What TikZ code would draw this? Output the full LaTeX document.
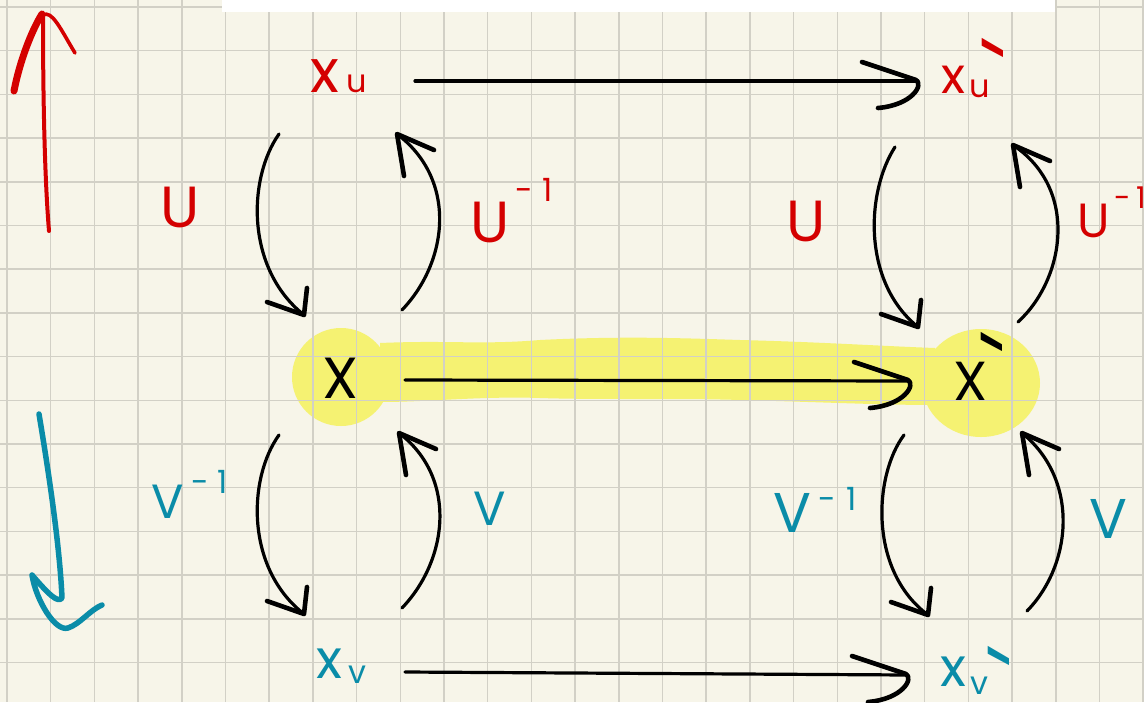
\documentclass[tikz,border=0pt]{standalone}
\usepackage{fontspec}
\setmainfont{Poppins}
\definecolor{paper}{HTML}{F7F5E9}
\definecolor{gridc}{HTML}{D2D0C6}
\definecolor{hl}{HTML}{F5F272}
\definecolor{inkred}{HTML}{D40000}
\definecolor{inkblue}{HTML}{0A8CA8}
\newcommand\fs[1]{\fontsize{#1}{#1}\selectfont}
\newcommand\mygrave[1]{\rlap{\raisebox{#1}{\fs{100}\textasciigrave}}}
\begin{document}
\begin{tikzpicture}[x=1pt,y=-1pt,
  gridline/.style={line width=1.5pt, gridc},
  conn/.style={line width=3.2pt, line cap=round, black},
  headstroke/.style={line width=4.6pt, line cap=round, line join=round, black},
  lbl/.style={inner sep=0pt, outer sep=0pt, anchor=base west},
  redlbl/.style={lbl, text=inkred},
  bluelbl/.style={lbl, text=inkblue},
  blacklbl/.style={lbl, text=black}]
\useasboundingbox (0,0) rectangle (1144,702);
\fill[paper] (0,0) rectangle (1144,702);
% highlight
\fill[hl] (341,377) circle (49pt);
\fill[hl] (981,383) ellipse (59pt and 54pt);
\fill[hl] (380,343) .. controls (450,340) and (480,345) .. (540,340)
  .. controls (620,336) and (680,338) .. (740,340)
  .. controls (820,342) and (880,346) .. (935,348) -- (935,405)
  .. controls (880,405) and (820,402) .. (740,400)
  .. controls (680,398) and (600,400) .. (540,398)
  .. controls (480,396) and (430,402) .. (380,402) -- cycle;
% grid
\foreach \i in {0,...,26} \draw[gridline] ({7+43.7*\i},0) -- ({7+43.7*\i},702);
\foreach \j in {0,...,15} \draw[gridline] (0,{7+43.7*\j}) -- (1144,{7+43.7*\j});
\fill[white] (222,0) rectangle (1055,12);

% side arrows
\draw[line width=4pt, inkred, line cap=round] (49,231) .. controls (44,170) and (43,80) .. (43,16);
\draw[line width=7pt, inkred, line cap=round] (14,91) .. controls (20,60) and (32,30) .. (42,14);
\draw[line width=3.6pt, inkred, line cap=round] (43,15) .. controls (52,10) and (60,28) .. (75,53);
\draw[line width=5.5pt, inkblue, line cap=round, line join=round]
  (39,414) .. controls (50,480) and (60,550) .. (62,598) .. controls (58,603) and (50,596) .. (32,575)
  .. controls (36,600) and (55,632) .. (68,628) .. controls (80,624) and (90,610) .. (102,605);

% labels
\node[redlbl] (xu) at (310,92) {\fs{60}x\hspace{8pt}\fs{32}u};
\node[redlbl] (xup) at (941,93) {\fs{50}x\hspace{5pt}\raisebox{-4pt}{\fs{32}u}\hspace{-10pt}\mygrave{-23pt}};
\node[blacklbl] (X) at (322,398) {\fs{58}X};
\node[blacklbl] (Xp) at (953,400) {\fs{55}X\hspace{-8pt}\mygrave{-10pt}};
\node[bluelbl] (xv) at (316,678) {\fs{54}x\hspace{7pt}\raisebox{-5pt}{\fs{32}v}};
\node[bluelbl] (xvp) at (940,686) {\fs{54}x\hspace{5pt}\raisebox{-8pt}{\fs{32}v}\hspace{-2pt}\mygrave{-38pt}};

\node[redlbl] (U1) at (160,227) {\fs{58}U};
\node[redlbl] (Ui1) at (470,242) {\fs{58}U\hspace{6pt}\raisebox{41pt}{\fs{32}-\hspace{10pt}1}};
\node[redlbl] (U2) at (786,241) {\fs{58}U};
\node[redlbl] (Ui2) at (1077,237) {\fs{48}U\hspace{5pt}\raisebox{29pt}{\fs{30}-\hspace{6pt}1}};
\node[bluelbl] (Vi1) at (151,518) {\fs{48}V\hspace{8pt}\raisebox{25pt}{\fs{32}-\hspace{8pt}1}};
\node[bluelbl] (V1) at (473,525) {\fs{48}V};
\node[bluelbl] (Vi2) at (773,532) {\fs{56}V\hspace{8pt}\raisebox{22pt}{\fs{32}-\hspace{10pt}1}};
\node[bluelbl] (V2) at (1089,538) {\fs{56}V};

% horizontal connectors
\coordinate (h1s) at (415,81); \coordinate (h1e) at (918,81);
\coordinate (h2s) at (405,380); \coordinate (h2e) at (910,381);
\coordinate (h3s) at (405,672); \coordinate (h3e) at (908,675);
\draw[conn] (h1s) -- (h1e);
\draw[conn] (h2s) -- (h2e);
\draw[conn] (h3s) -- (h3e);
\foreach \t in {h1e,h2e,h3e}
  \draw[headstroke] ([shift={(-56,-19)}]\t) -- ([shift={(-2,-1)}]\t)
    .. controls ([shift={(6,4)}]\t) and ([shift={(-6,24)}]\t) .. ([shift={(-40,27)}]\t);

% vertical curved connectors
\coordinate (d1s) at (279,134); \coordinate (d1e) at (304,315);
\coordinate (u1s) at (402,310); \coordinate (u1e) at (397,134);
\coordinate (d2s) at (895,147); \coordinate (d2e) at (918,327);
\coordinate (u2s) at (1018,322); \coordinate (u2e) at (1013,145);
\coordinate (d3s) at (279,435); \coordinate (d3e) at (304,614);
\coordinate (u3s) at (402,608); \coordinate (u3e) at (399,433);
\coordinate (d4s) at (904,435); \coordinate (d4e) at (928,615);
\coordinate (u4s) at (1027,611); \coordinate (u4e) at (1022,433);

\draw[conn] (d1s) .. controls (248,178) and (245,268) .. (d1e);
\draw[conn] (u1s) .. controls (448,262) and (458,180) .. (u1e);
\draw[conn] (d2s) .. controls (866,192) and (862,282) .. (d2e);
\draw[conn] (u2s) .. controls (1064,280) and (1080,190) .. (u2e);
\draw[conn] (d3s) .. controls (248,478) and (245,568) .. (d3e);
\draw[conn] (u3s) .. controls (448,560) and (458,478) .. (u3e);
\draw[conn] (d4s) .. controls (874,475) and (868,570) .. (d4e);
\draw[conn] (u4s) .. controls (1072,565) and (1080,480) .. (u4e);

\foreach \t in {d1e,d2e,d3e,d4e}
  \draw[headstroke] ([shift={(-37,-13)}]\t) -- (\t) -- ([shift={(3,-27)}]\t);
\foreach \t in {u1e,u2e,u3e,u4e}
  \draw[headstroke] ([shift={(7,42)}]\t) -- (\t) -- ([shift={(37,16)}]\t);
\end{tikzpicture}
\end{document}
